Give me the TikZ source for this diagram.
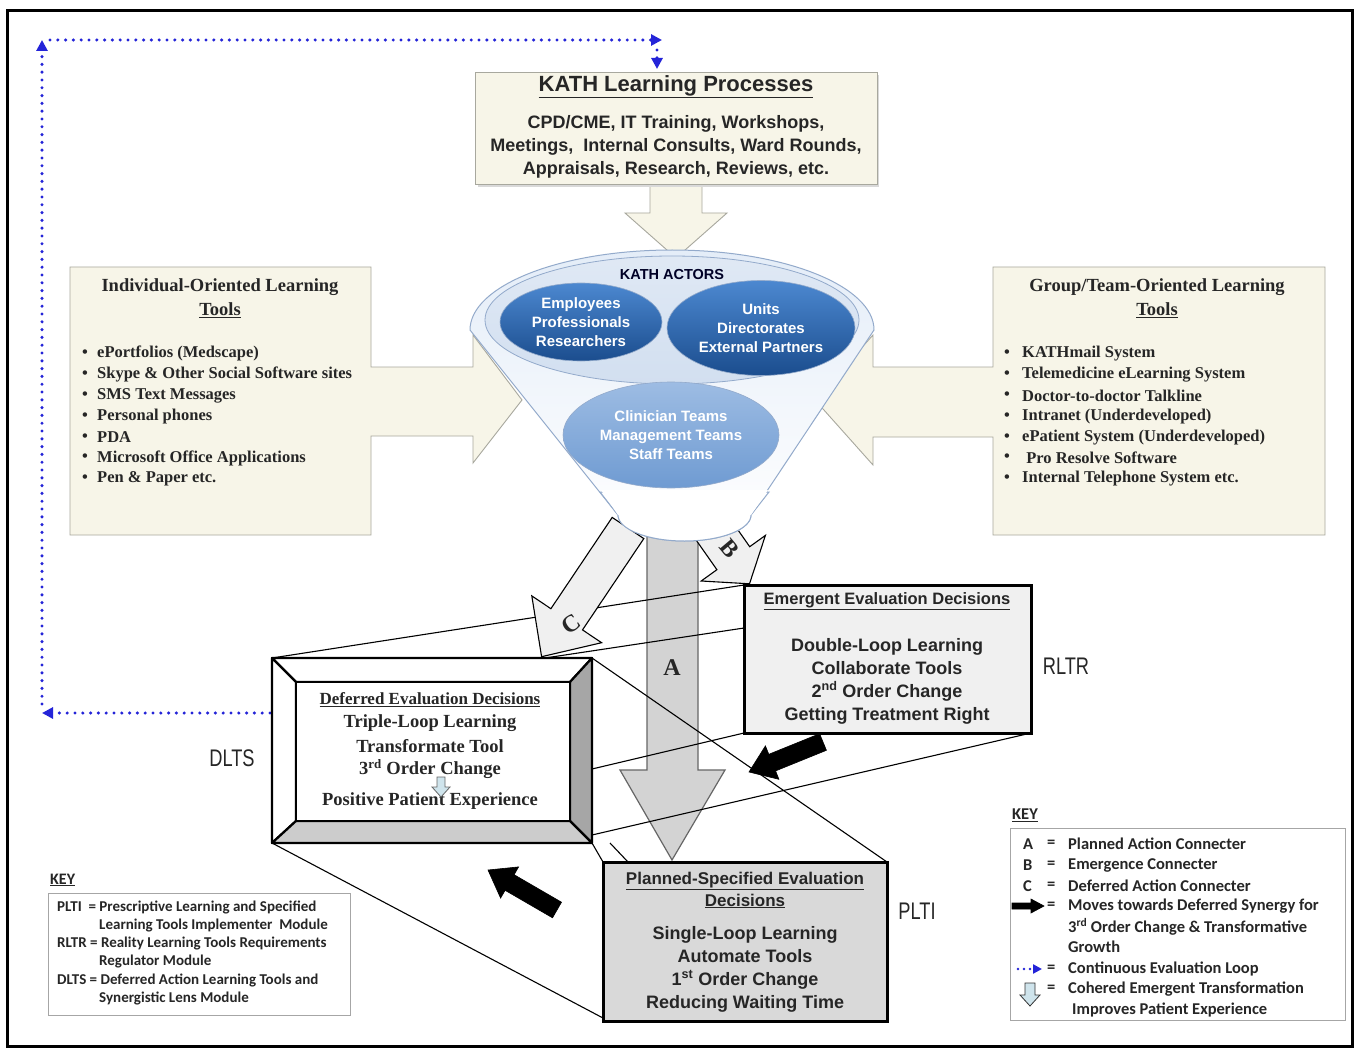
\documentclass[tikz,border=0pt]{standalone}
\usepackage{fontspec}
\setmainfont{Liberation Serif}
\setsansfont{Liberation Sans}
\newfontfamily\calib{Carlito}
\usetikzlibrary{arrows.meta,calc,shapes.geometric}
\definecolor{cream}{HTML}{F7F5E8}
\definecolor{boxgray}{HTML}{A8A89E}
\definecolor{funnelline}{HTML}{93AACB}
\definecolor{funneltop}{HTML}{E4EDF8}
\definecolor{mouth}{HTML}{D2DFF0}
\definecolor{darkA}{HTML}{4C88D0}
\definecolor{darkB}{HTML}{1B4D8E}
\definecolor{lightA}{HTML}{9DBCE3}
\definecolor{lightB}{HTML}{6F9BD2}
\definecolor{loopblue}{HTML}{2424D8}
\definecolor{txt}{HTML}{262626}
\definecolor{agray}{HTML}{D3D3D3}
\definecolor{rbox}{HTML}{F0F0F0}
\definecolor{pbox}{HTML}{D9D9D9}
\definecolor{smallarrow}{HTML}{CFE4EC}
\begin{document}
\begin{tikzpicture}[x=1pt,y=-1pt,
  cbox/.style={draw=boxgray, fill=cream, line width=0.9pt},
  thin/.style={draw=black, line width=1.1pt},
  loopst/.style={draw=loopblue, line width=3.4pt, dash pattern=on 0pt off 7.8pt, line cap=round},
  looptip/.style={-{Triangle[length=11pt,width=11pt]}},
  serb/.style={font=\rmfamily\bfseries\fontsize{16.5}{20}\selectfont, text=txt, inner sep=0pt},
  sansb/.style={font=\sffamily\bfseries\fontsize{18}{23}\selectfont, text=txt, inner sep=0pt},
  actor/.style={ellipse, inner sep=0pt, align=center, text=white, draw=funnelline, line width=0.6pt,
     font=\sffamily\bfseries\fontsize{15}{18.8}\selectfont},
  keyt/.style={font=\calib\bfseries\fontsize{15}{17}\selectfont, text=txt, anchor=west, inner sep=0pt},
  keyr/.style={font=\calib\bfseries\fontsize{16.5}{19}\selectfont, text=txt, anchor=west, inner sep=0pt},
  lab/.style={font=\sffamily\fontsize{24}{24}\selectfont, text=txt, inner sep=0pt},
  blkarrow/.style={fill=black, draw=black, line width=0.6pt}
]
\useasboundingbox (0,0) rectangle (1359,1048);
\fill[white] (0,0) rectangle (1359,1048);
\draw[line width=3pt] (7,11) rectangle (1352,1046);

% ---------- continuous evaluation loop ----------
\coordinate (dW) at (270,713);
\coordinate (lpL) at (42,713);
\coordinate (lpB) at (42,704);
\coordinate (lpT) at (42,40);
\coordinate (lpS) at (50,40);
\coordinate (lpR) at (662,40);
\coordinate (lpD) at (657,50);
\coordinate (lpE) at (657,69);
\draw[loopst, looptip] (dW) -- (lpL);
\draw[loopst, looptip] (lpB) -- (lpT);
\draw[loopst, looptip] (lpS) -- (lpR);
\draw[loopst, looptip] (lpD) -- (lpE);

% ---------- top box ----------
\draw[cbox] (650,180) -- (702,180) -- (702,213) -- (727,213) -- (676,258) -- (625,213) -- (650,213) -- cycle;
\fill[gray!30] (478,75) rectangle (879,187);
\node[cbox, minimum width=402pt, minimum height=112pt] (topbox) at (676,128) {};
\node[sansb, font=\sffamily\bfseries\fontsize{22}{24}\selectfont] (toptitle) at (676,87) {\underline{KATH Learning Processes}};
\node[sansb, align=center] (toptext) at (676,147) {CPD/CME, IT Training, Workshops,\\Meetings,\ \ Internal Consults, Ward Rounds,\\Appraisals, Research, Reviews, etc.};

% ---------- left box ----------
\draw[cbox] (70,267) -- (371,267) -- (371,367) -- (473,367) -- (473,335) -- (522,400) -- (473,463) -- (473,436) -- (371,436) -- (371,535) -- (70,535) -- cycle;
\node[serb, font=\rmfamily\bfseries\fontsize{18.5}{23}\selectfont] (lt1) at (220,287) {Individual-Oriented Learning};
\node[serb, font=\rmfamily\bfseries\fontsize{18.5}{23}\selectfont] (lt2) at (220,310) {\underline{Tools}};
\foreach \t [count=\i] in {ePortfolios (Medscape),Skype \& Other Social Software sites,SMS Text Messages,Personal phones,PDA,Microsoft Office Applications,Pen \& Paper etc.}{
  \node[serb, anchor=west] (lb\i) at (82,{333+\i*20.85}) {\textbullet};
  \node[serb, anchor=west] (li\i) at (97,{333+\i*20.85}) {\t};
}

% ---------- right box ----------
\draw[cbox] (1325,267) -- (993,267) -- (993,367) -- (873,367) -- (873,335) -- (815,400) -- (873,465) -- (873,437) -- (993,437) -- (993,535) -- (1325,535) -- cycle;
\node[serb, font=\rmfamily\bfseries\fontsize{18.5}{23}\selectfont] (rt1) at (1157,287) {Group/Team-Oriented Learning};
\node[serb, font=\rmfamily\bfseries\fontsize{18.5}{23}\selectfont] (rt2) at (1157,310) {\underline{Tools}};
\foreach \t [count=\i] in {KATHmail System,Telemedicine eLearning System,Doctor-to-doctor Talkline,Intranet (Underdeveloped),ePatient System (Underdeveloped),\ Pro Resolve Software,Internal Telephone System etc.}{
  \node[serb, anchor=west] (rb\i) at (1004,{333+\i*20.85}) {\textbullet};
  \node[serb, anchor=west] (ri\i) at (1022,{333+\i*20.85}) {\t};
}

% ---------- connector A ----------
\draw[fill=agray, draw=gray!80!black, line width=1.2pt] (647,525) -- (698,525) -- (698,770) -- (725,770) -- (672,860) -- (620,770) -- (647,770) -- cycle;
% ---------- connector B ----------
\draw[fill=rbox, draw=black, line width=1.1pt] (712.4,493.5) -- (749.7,546.7) -- (765.4,535.4) -- (749.5,583.8) -- (701.2,581.0) -- (716.9,569.7) -- (679.6,516.5) -- cycle;
\node[serb, font=\rmfamily\bfseries\fontsize{24}{24}\selectfont, rotate=-50] (lblB) at (730,549) {B};

% ---------- funnel ----------
\draw[draw=funnelline, line width=1pt, top color=funneltop, bottom color=white]
  (470,330) arc[start angle=180,end angle=0,x radius=202pt,y radius=80pt] -- (751,515)
  arc[start angle=0,end angle=-180,x radius=66.5pt,y radius=26pt] -- cycle;
\node[ellipse, draw=funnelline, top color=mouth!70, bottom color=mouth, minimum width=374pt, minimum height=128pt, line width=0.8pt] (mouthE) at (672,320) {};
\node[font=\sffamily\bfseries\fontsize{14.5}{16}\selectfont, text=black!85!blue, inner sep=0pt] (actors) at (672,275) {KATH ACTORS};
\node[actor, top color=darkA, bottom color=darkB, minimum width=162pt, minimum height=78pt] (emp) at (581,322) {Employees\\Professionals\\Researchers};
\node[actor, top color=darkA, bottom color=darkB, minimum width=188pt, minimum height=95pt] (units) at (761,328) {Units\\Directorates\\External Partners};
\node[actor, top color=lightA, bottom color=lightB, minimum width=216pt, minimum height=106pt] (clin) at (671,435) {Clinician Teams\\Management Teams\\Staff Teams};

\node[serb, font=\rmfamily\bfseries\fontsize{24}{24}\selectfont] (lblA) at (672,668) {A};

% ---------- perspective lines ----------
\coordinate (dTL) at (272,658);
\coordinate (dTR) at (592,658);
\coordinate (dBL) at (272,843);
\coordinate (dBR) at (592,843);
\coordinate (dT2) at (545,658);
\coordinate (dR1) at (592,769);
\coordinate (dR2) at (592,835);
\coordinate (rTL) at (744,585);
\coordinate (rL2) at (744,628);
\coordinate (rBL) at (744,733);
\coordinate (rBR) at (1031,733);
\coordinate (pTR) at (887,862);
\coordinate (pTL) at (603,862);
\coordinate (pBL) at (603,1018);
\coordinate (dB2) at (610,843);
\coordinate (pT2) at (628,862);
\draw[thin] (dTL) -- (rTL);
\draw[thin] (dT2) -- (rL2);
\draw[thin] (dR1) -- (rBL);
\draw[thin] (dR2) -- (rBR);
\draw[thin] (dTR) -- (pTR);
\draw[thin] (dBL) -- (pBL);
\draw[thin] (dBR) -- (pTL);
\draw[thin] (dB2) -- (pT2);

% ---------- connector C ----------
\draw[fill=rbox, draw=black, line width=1.1pt] (612.2,517.4) -- (550.9,608.7) -- (531.8,595.9) -- (541.6,656.7) -- (601.6,642.7) -- (582.5,629.9) -- (643.8,538.6) -- cycle;
\node[serb, font=\rmfamily\bfseries\fontsize{24}{24}\selectfont, rotate=35] (lblC) at (571,624) {C};
% funnel bottom redrawn over the tops of the connectors
\draw[draw=funnelline, line width=1pt, fill=white]
  (600,492) -- (618,515) arc[start angle=180,end angle=360,x radius=66.5pt,y radius=26pt] -- (769,492) -- cycle;
\path[fill=white] (601,490) -- (768,490) -- (751,515) -- (618,515) -- cycle;

% ---------- DLTS bevel box ----------
\coordinate (iTL) at (296,682);
\coordinate (iTR) at (570,682);
\coordinate (iBL) at (296,821);
\coordinate (iBR) at (570,821);
\begin{scope}[line width=2.2pt, line join=round]
\draw[fill=white] (dTL) -- (dTR) -- (iTR) -- (iTL) -- cycle;
\draw[fill=white] (dTL) -- (iTL) -- (iBL) -- (dBL) -- cycle;
\draw[fill=gray!70] (dTR) -- (dBR) -- (iBR) -- (iTR) -- cycle;
\draw[fill=gray!40] (dBL) -- (iBL) -- (iBR) -- (dBR) -- cycle;
\draw[fill=white] (iTL) rectangle (iBR);
\end{scope}
\node[serb, font=\rmfamily\bfseries\fontsize{17}{20}\selectfont] (d1) at (430,700) {\underline{Deferred Evaluation Decisions}};
\node[serb, font=\rmfamily\bfseries\fontsize{18.5}{20}\selectfont] (d2) at (430,723) {Triple-Loop Learning};
\node[serb, font=\rmfamily\bfseries\fontsize{18.5}{20}\selectfont] (d3) at (430,746) {Transformate Tool};
\node[serb, font=\rmfamily\bfseries\fontsize{18.5}{20}\selectfont] (d4) at (430,769) {3\textsuperscript{rd} Order Change};
\node[serb, font=\rmfamily\bfseries\fontsize{18.5}{20}\selectfont] (d5) at (430,801) {Positive Patient Experience};
\draw[fill=smallarrow, draw=gray!80!black, line width=0.8pt] (437,777) -- (445,777) -- (445,787) -- (450,787) -- (441,797) -- (432,787) -- (437,787) -- cycle;

% ---------- RLTR box ----------
\node[draw=black, line width=3pt, fill=rbox, minimum width=287pt, minimum height=148pt, inner sep=0pt] (rltr) at (887.5,659) {};
\node[sansb, font=\sffamily\bfseries\fontsize{16.5}{20}\selectfont] (r1) at (887,601) {\underline{Emergent Evaluation Decisions}};
\node[sansb, align=center] (r2) at (887,681) {Double-Loop Learning\\Collaborate Tools\\2\textsuperscript{nd} Order Change\\Getting Treatment Right};

% ---------- PLTI box ----------
\node[draw=black, line width=3pt, fill=pbox, minimum width=284pt, minimum height=159pt, inner sep=0pt] (plti) at (745,941.5) {};
\node[sansb, align=center, font=\sffamily\bfseries\fontsize{17}{22}\selectfont] (p1) at (745,890) {\underline{Planned-Specified Evaluation}\\\underline{Decisions}};
\node[sansb, align=center] (p2) at (745,969) {Single-Loop Learning\\Automate Tools\\1\textsuperscript{st} Order Change\\Reducing Waiting Time};

% ---------- labels ----------
\node[lab] (labR) at (1066,666) {\scalebox{0.76}[1]{RLTR}};
\node[lab] (labD) at (232,758) {\scalebox{0.76}[1]{DLTS}};
\node[lab] (labP) at (917,911) {\scalebox{0.76}[1]{PLTI}};

% ---------- black arrows ----------
\draw[blkarrow] (819.6,733.7) -- (768.8,754.3) -- (765.4,745.9) -- (749,772) -- (778.9,779.3) -- (775.6,770.9) -- (826.4,750.3) -- cycle;
\draw[blkarrow] (561.5,902.2) -- (514.1,874.7) -- (518.6,866.9) -- (488,870) -- (500.6,898.1) -- (505.1,890.3) -- (552.5,917.8) -- cycle;

% ---------- left key ----------
\node[font=\calib\bfseries\fontsize{16}{16}\selectfont, text=txt, anchor=west, inner sep=0pt] (k1h) at (50,880) {\underline{KEY}};
\draw[draw=gray!70, line width=0.8pt] (48,893) rectangle (350,1015);
\node[keyt] (k11) at (57,907) {PLTI\ \ = Prescriptive Learning and Specified};
\node[keyt] (k12) at (99,925) {Learning Tools Implementer\ \ Module};
\node[keyt] (k13) at (57,943) {RLTR = Reality Learning Tools Requirements};
\node[keyt] (k14) at (99,961) {Regulator Module};
\node[keyt] (k15) at (57,980) {DLTS = Deferred Action Learning Tools and};
\node[keyt] (k16) at (99,998) {Synergistic Lens Module};

% ---------- right key ----------
\node[font=\calib\bfseries\fontsize{16.5}{16}\selectfont, text=txt, anchor=west, inner sep=0pt] (k2h) at (1012,815) {\underline{KEY}};
\draw[draw=gray!70, line width=0.8pt] (1010,828) rectangle (1345,1020);
\node[keyr] (ka) at (1023,844) {A};
\node[keyr] (kae) at (1047,844) {=};
\node[keyr] (kat) at (1068,844) {Planned Action Connecter};
\node[keyr] (kb) at (1023,865) {B};
\node[keyr] (kbe) at (1047,865) {=};
\node[keyr] (kbt) at (1068,865) {Emergence Connecter};
\node[keyr] (kc) at (1023,886) {C};
\node[keyr] (kce) at (1047,886) {=};
\node[keyr] (kct) at (1068,886) {Deferred Action Connecter};
\draw[blkarrow] (1012,903) -- (1031,903) -- (1031,899) -- (1044,906) -- (1031,913) -- (1031,909) -- (1012,909) -- cycle;
\node[keyr] (kde) at (1047,906) {=};
\node[keyr] (kdt) at (1068,906) {Moves towards Deferred Synergy for};
\node[keyr] (kdt2) at (1068,927) {3\textsuperscript{rd} Order Change \& Transformative};
\node[keyr] (kdt3) at (1068,947) {Growth};
\coordinate (klA) at (1018,969);
\coordinate (klB) at (1042,969);
\draw[loopst, line width=2.8pt, dash pattern=on 0pt off 6pt, -{Triangle[length=9pt,width=9pt]}] (klA) -- (klB);
\node[keyr] (kee) at (1047,969) {=};
\node[keyr] (ket) at (1068,969) {Continuous Evaluation Loop};
\draw[fill=smallarrow, draw=black!80, line width=0.8pt] (1025,983) -- (1035,983) -- (1035,995) -- (1040,995) -- (1030,1006) -- (1020,995) -- (1025,995) -- cycle;
\node[keyr] (kfe) at (1047,989) {=};
\node[keyr] (kft) at (1068,989) {Cohered Emergent Transformation};
\node[keyr] (kft2) at (1072,1010) {Improves Patient Experience};
\end{tikzpicture}
\end{document}
